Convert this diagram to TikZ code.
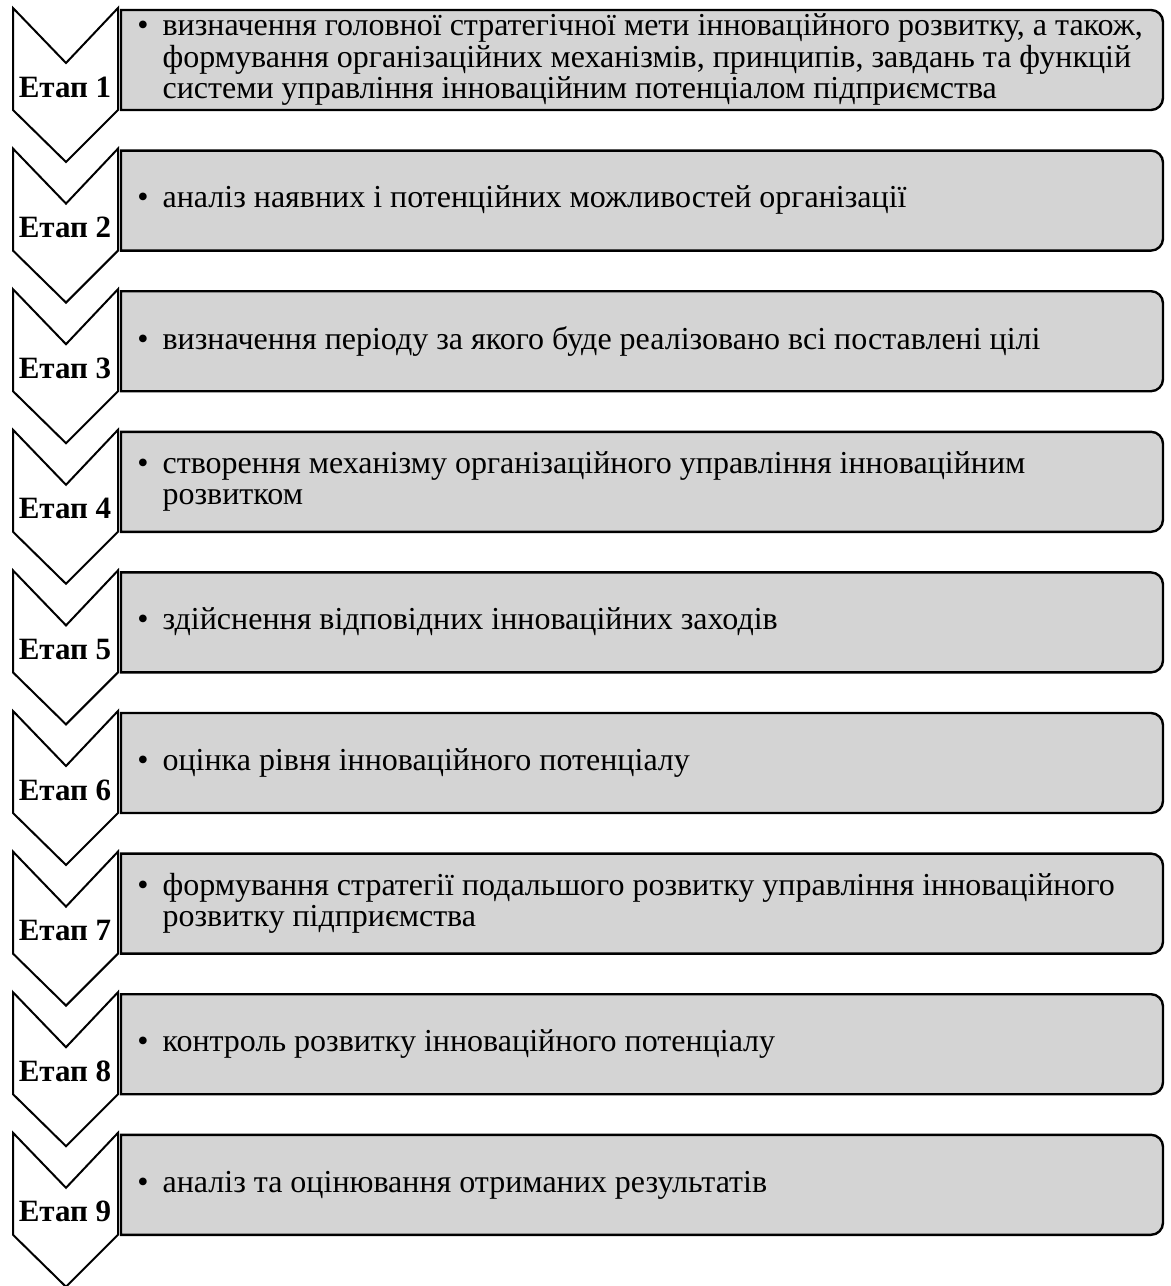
\documentclass[tikz,border=0pt]{standalone}
\usepackage{fontspec}
\setmainfont{Liberation Serif}
\definecolor{boxgray}{RGB}{212,212,212}
\tikzset{
  stagebox/.style={draw=black,fill=boxgray,line width=1.2pt},
  chevron/.style={draw=black,fill=white,line width=1pt,line join=miter},
  stagelabel/.style={font=\fontsize{15.5}{18}\selectfont\bfseries,inner sep=0pt,anchor=base},
  itemtext/.style={font=\fontsize{16}{15.5}\selectfont,inner sep=0pt,anchor=west}
}
\begin{document}
\begin{tikzpicture}[x=0.5pt,y=-0.5pt]
\useasboundingbox (0,0) rectangle (1171,1286);

\foreach \i/\txt in {
  1/{визначення головної стратегічної мети інноваційного розвитку, а також,\\ & формування організаційних механізмів, принципів, завдань та функцій\\ & системи управління інноваційним потенціалом підприємства},
  2/{аналіз наявних і потенційних можливостей організації},
  3/{визначення періоду за якого буде реалізовано всі поставлені цілі},
  4/{створення механізму організаційного управління інноваційним\\ & розвитком},
  5/{здійснення відповідних інноваційних заходів},
  6/{оцінка рівня інноваційного потенціалу},
  7/{формування стратегії подальшого розвитку управління інноваційного\\ & розвитку підприємства},
  8/{контроль розвитку інноваційного потенціалу},
  9/{аналіз та оцінювання отриманих результатів}}{
  \pgfmathsetmacro{\ytop}{10+(\i-1)*140.6}
  % chevron and stage box
  \draw[chevron] (13,\ytop-2) -- (66,\ytop+53) -- (118,\ytop-2) -- (118,\ytop+100)
     -- (66,\ytop+152) -- (13,\ytop+100) -- cycle;
  \draw[stagebox] (121,\ytop) -- (1151,\ytop) arc[start angle=-90,end angle=0,radius=12]
     -- (1163,\ytop+88) arc[start angle=0,end angle=90,radius=12] -- (121,\ytop+100) -- cycle;
  \node[stagelabel] (etap\i) at (65,\ytop+87) {Етап \i};
  \node[itemtext] (item\i) at (137,\ytop+51)
     {\begin{tabular}{@{}l@{\hspace{7pt}}l@{}}\textbullet & \txt\end{tabular}};
}

\end{tikzpicture}
\end{document}
